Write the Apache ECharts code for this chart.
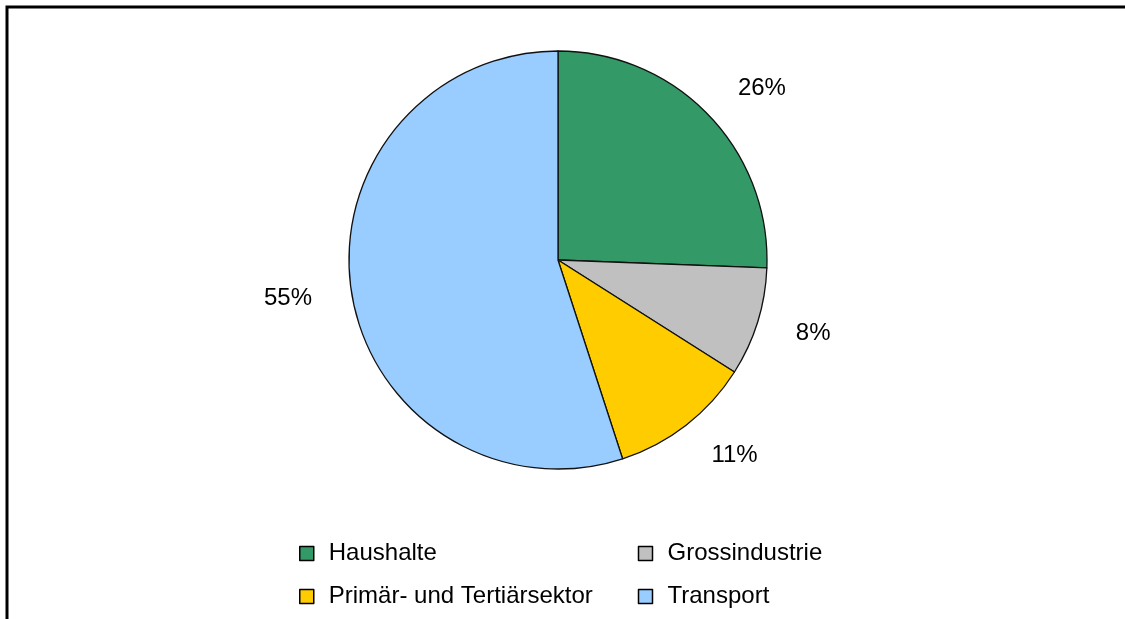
<!DOCTYPE html>
<html>
<head>
<meta charset="utf-8">
<script src="https://cdn.jsdelivr.net/npm/echarts@6/dist/echarts.min.js"></script>
<style>
  html, body { margin: 0; padding: 0; background: #fff; }
  #chart { width: 1125px; height: 619px; }
</style>
</head>
<body>
<div id="chart"></div>
<script>
const categories = ["Haushalte", "Grossindustrie", "Primär- und Tertiärsektor", "Transport"];
// shares, labels show them rounded
const shares = [25.6, 8.4, 11.0, 55.0];
const colors = ["#339966", "#C0C0C0", "#FFCC00", "#99CCFF"];
// legend is filled row by row: Haushalte, Grossindustrie / Primär..., Transport
const legendOrder = ["Haushalte", "Grossindustrie", "Primär- und Tertiärsektor", "Transport"];

const chart = echarts.init(document.getElementById("chart"));

const option = {
  backgroundColor: "#fff",
  textStyle: { fontFamily: "Liberation Sans, Arial, sans-serif" },
  graphic: [
    {
      type: "polyline",
      shape: { points: [[7, 619], [7, 7], [1125, 7]] },
      style: { stroke: "#000", lineWidth: 3, fill: null }
    }
  ],
  legend: {
    left: 294,
    top: 532,
    width: 720,
    orient: "horizontal",
    icon: "rect",
    itemWidth: 14,
    itemHeight: 14,
    itemGap: 10,
    itemStyle: { borderColor: "#000", borderWidth: 1.5 },
    textStyle: {
      fontSize: 24,
      color: "#000",
      width: 299,
      lineHeight: 33,
      padding: [0, 0, 0, 10]
    },
    data: legendOrder
  },
  series: [
    {
      type: "pie",
      center: [558, 260],
      radius: 209,
      startAngle: 90,
      clockwise: true,
      avoidLabelOverlap: false,
      data: categories.map((name, i) => ({
        name: name,
        value: shares[i],
        itemStyle: { color: colors[i] }
      })),
      itemStyle: { borderColor: "#111", borderWidth: 1.3 },
      label: {
        show: true,
        position: "outside",
        formatter: (p) => Math.round(p.value) + "%",
        fontSize: 24,
        color: "#000",
        distanceToLabelLine: 2
      },
      labelLine: { show: false, length: 38, length2: 0 },
      emphasis: { disabled: true }
    }
  ]
};

chart.setOption(option);
</script>
</body>
</html>
